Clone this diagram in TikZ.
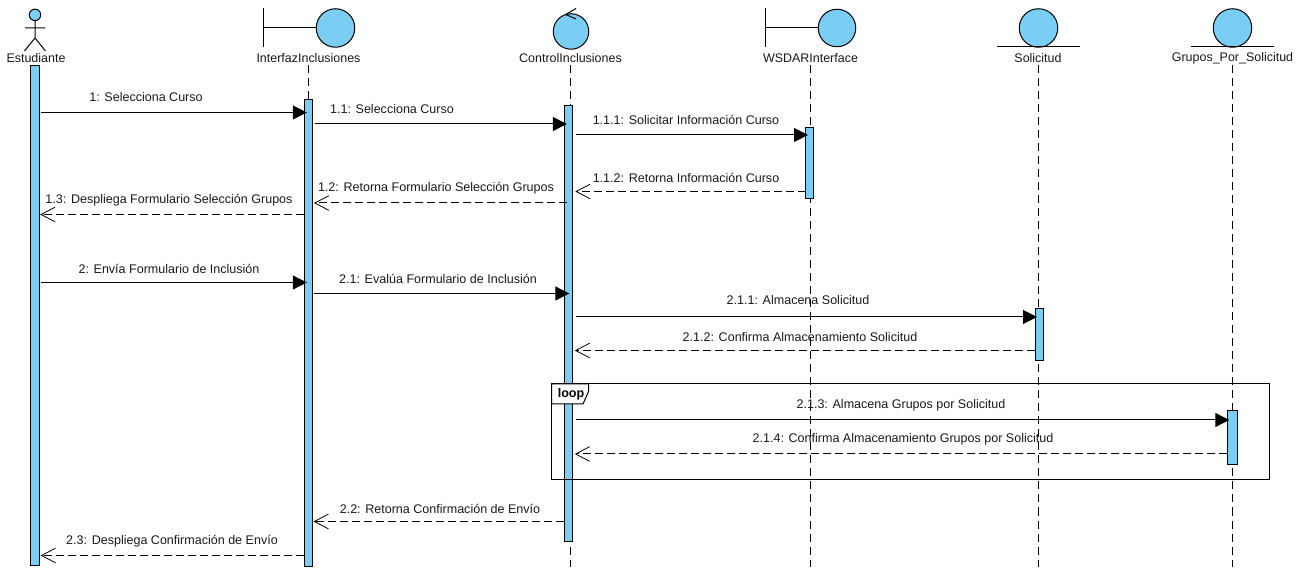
\documentclass[tikz,border=0pt]{standalone}
\usepackage{fontspec}
\setmainfont{Liberation Sans}
\usetikzlibrary{arrows.meta}
\definecolor{umlblue}{HTML}{7ACEF4}
\tikzset{
  px/.style={x=0.75pt,y=-0.75pt},
  shapeline/.style={draw=black,line width=0.75pt},
  iconcircle/.style={shape=circle,draw=black,line width=0.75pt,fill=umlblue,inner sep=0pt,outer sep=0pt},
  actbar/.style={shape=rectangle,draw=black,line width=0.75pt,fill=umlblue,inner sep=0pt,outer sep=0pt},
  headlabel/.style={font=\fontsize{9.35}{11}\selectfont,inner sep=0pt,text=black!90},
  msglabel/.style={font=\fontsize{9.4}{11}\selectfont,inner sep=0pt,text=black!90},
  lifeline/.style={draw=black,line width=0.75pt,dash pattern=on 6pt off 3.75pt},
  syncmsg/.style={draw=black,line width=0.75pt,-{Triangle[length=10.5pt,width=10.5pt]}},
  retmsg/.style={draw=black,line width=0.75pt,dash pattern=on 6pt off 3pt,-{Straight Barb[length=10.5pt,width=11pt,line width=0.6pt]}},
}
% \actnode{name}{x1}{y1}{x2}{y2}
\newcommand{\actnode}[5]{\node[actbar,minimum width=(#4-#2)*0.75pt,minimum height=(#5-#3)*0.75pt] (#1) at ({(#2+#4)/2},{(#3+#5)/2}) {};}
% \sendmsg{id}{from}{to}{y}{startshift}{endshift}{label x}{label y}{text}
\newcommand{\sendmsg}[9]{\draw[syncmsg] ([xshift=#5*0.75pt]#2.east |- 0,#4) -- ([xshift=#6*0.75pt+0.75pt]#3.west |- 0,#4);\node[msglabel] (l#1) at (#7,#8) {#9};}
\newcommand{\backmsg}[9]{\draw[retmsg] ([xshift=#5*0.75pt]#2.west |- 0,#4) -- ([xshift=#6*0.75pt]#3.east |- 0,#4);\node[msglabel] (l#1) at (#7,#8) {#9};}
\begin{document}
\begin{tikzpicture}[px]
\useasboundingbox (0,0) rectangle (1299,580);
\begin{scope}[yshift=-0.375pt]
% lifeline ends
\foreach \n/\x in {I/308,C/570,W/810,S/1038,G/1232.5}{
  \coordinate (top\n) at (\x,65);
  \coordinate (end\n) at (\x,566.5);
  \draw[lifeline] (top\n) -- (end\n);
}
% actor
\node[iconcircle,minimum size=11.5*0.75pt] (head) at (35,14.4) {};
\coordinate (hip) at (35,37.5);
\coordinate (armL) at (25,27.5);
\coordinate (armR) at (45,27.5);
\coordinate (legL) at (24.5,50.5);
\coordinate (legR) at (45.5,50.5);
\draw[shapeline] (head.south) -- (hip) (armL) -- (armR) (legL) -- (hip) -- (legR);
\node[headlabel] (nE) at (36,57.5) {Estudiante};
% boundary Interfaz
\node[iconcircle,minimum size=38.5*0.75pt] (cI) at (335.5,27.5) {};
\coordinate (bI1) at (263.5,8);
\coordinate (bI2) at (263.5,46.5);
\draw[shapeline] (bI1) -- (bI2) (263.5,27.5) -- (cI.west);
\node[headlabel] (nI) at (308.5,57.5) {InterfazInclusiones};
% control
\node[iconcircle,minimum size=35.5*0.75pt] (cC) at (571,31) {};
\coordinate (cA1) at (576,8);
\coordinate (cA2) at (565.7,14);
\coordinate (cA3) at (576,18.5);
\draw[shapeline] (cA1) -- (cA2) -- (cA3);
\node[headlabel] (nC) at (570.5,57.5) {ControlInclusiones};
% boundary WSDAR
\node[iconcircle,minimum size=37.5*0.75pt] (cW) at (837,27.5) {};
\coordinate (bW1) at (765.7,8);
\coordinate (bW2) at (765.7,46.5);
\draw[shapeline] (bW1) -- (bW2) (765.7,27.5) -- (cW.west);
\node[headlabel] (nW) at (810.5,57.5) {WSDARInterface};
% entity Solicitud
\node[iconcircle,minimum size=38.5*0.75pt] (cS) at (1038.5,27.5) {};
\coordinate (eS1) at (997,46.5);
\coordinate (eS2) at (1080,46.5);
\draw[shapeline] (eS1) -- (eS2);
\node[headlabel] (nS) at (1038,57.5) {Solicitud};
% entity Grupos
\node[iconcircle,minimum size=38.5*0.75pt] (cG) at (1232.5,27.5) {};
\coordinate (eG1) at (1191,46.5);
\coordinate (eG2) at (1274,46.5);
\draw[shapeline] (eG1) -- (eG2);
\node[headlabel] (nG) at (1232.5,57.5) {Grupos\_Por\_Solicitud};
% activation bars
\actnode{aE}{30.7}{65.5}{39.7}{565}
\actnode{aI}{304.3}{99}{312.5}{566}
\actnode{aC}{564.3}{105}{572.3}{541}
\actnode{aW}{805.5}{127}{813.5}{198}
\actnode{aS}{1035}{308}{1043}{360.5}
\actnode{aG}{1227.3}{410}{1237.5}{464}
% loop frame
\coordinate (fTL) at (551.5,383.5);
\coordinate (fBR) at (1269.5,479);
\draw[shapeline] (fTL) rectangle (fBR);
\coordinate (tagA) at (588.5,383.5);
\coordinate (tagB) at (588.5,391);
\coordinate (tagC) at (583,403.5);
\coordinate (tagD) at (551.5,403.5);
\draw[shapeline,fill=white] (fTL) -- (tagA) -- (tagB) -- (tagC) -- (tagD) -- cycle;
\node[font=\fontsize{9.4}{11}\selectfont\bfseries,inner sep=0pt] (nLoop) at (571,394) {loop};
% messages
\sendmsg{m1}{aE}{aI}{112}{1.5}{1.5}{146}{97}{1: Selecciona Curso}
\sendmsg{m2}{aI}{aC}{123.5}{2.5}{1.5}{392}{109}{1.1: Selecciona Curso}
\sendmsg{m3}{aC}{aW}{134.5}{3.5}{1.5}{686}{119}{1.1.1: Solicitar Información Curso}
\backmsg{m4}{aW}{aC}{191}{0}{3}{686}{177}{1.1.2: Retorna Información Curso}
\backmsg{m5}{aC}{aI}{202.5}{3}{1.5}{436}{188}{1.2: Retorna Formulario Selección Grupos}
\backmsg{m6}{aI}{aE}{214}{0}{0.5}{169}{200}{1.3: Despliega Formulario Selección Grupos}
\sendmsg{m7}{aE}{aI}{282}{1.5}{1.5}{169}{268}{2: Envía Formulario de Inclusión}
\sendmsg{m8}{aI}{aC}{293}{1.5}{4}{438}{278}{2.1: Evalúa Formulario de Inclusión}
\sendmsg{m9}{aC}{aS}{316.5}{3.5}{1}{798}{300}{2.1.1: Almacena Solicitud}
\backmsg{m10}{aS}{aC}{350}{0}{2.5}{800}{337}{2.1.2: Confirma Almacenamiento Solicitud}
\sendmsg{m11}{aC}{aG}{419.5}{3.5}{1}{901}{405}{2.1.3: Almacena Grupos por Solicitud}
\backmsg{m12}{aG}{aC}{453.5}{0}{2.5}{903}{439}{2.1.4: Confirma Almacenamiento Grupos por Solicitud}
\backmsg{m13}{aC}{aI}{521}{0}{1}{440}{508}{2.2: Retorna Confirmación de Envío}
\backmsg{m14}{aI}{aE}{555}{0}{1}{172}{541}{2.3: Despliega Confirmación de Envío}
\end{scope}
\end{tikzpicture}
\end{document}
